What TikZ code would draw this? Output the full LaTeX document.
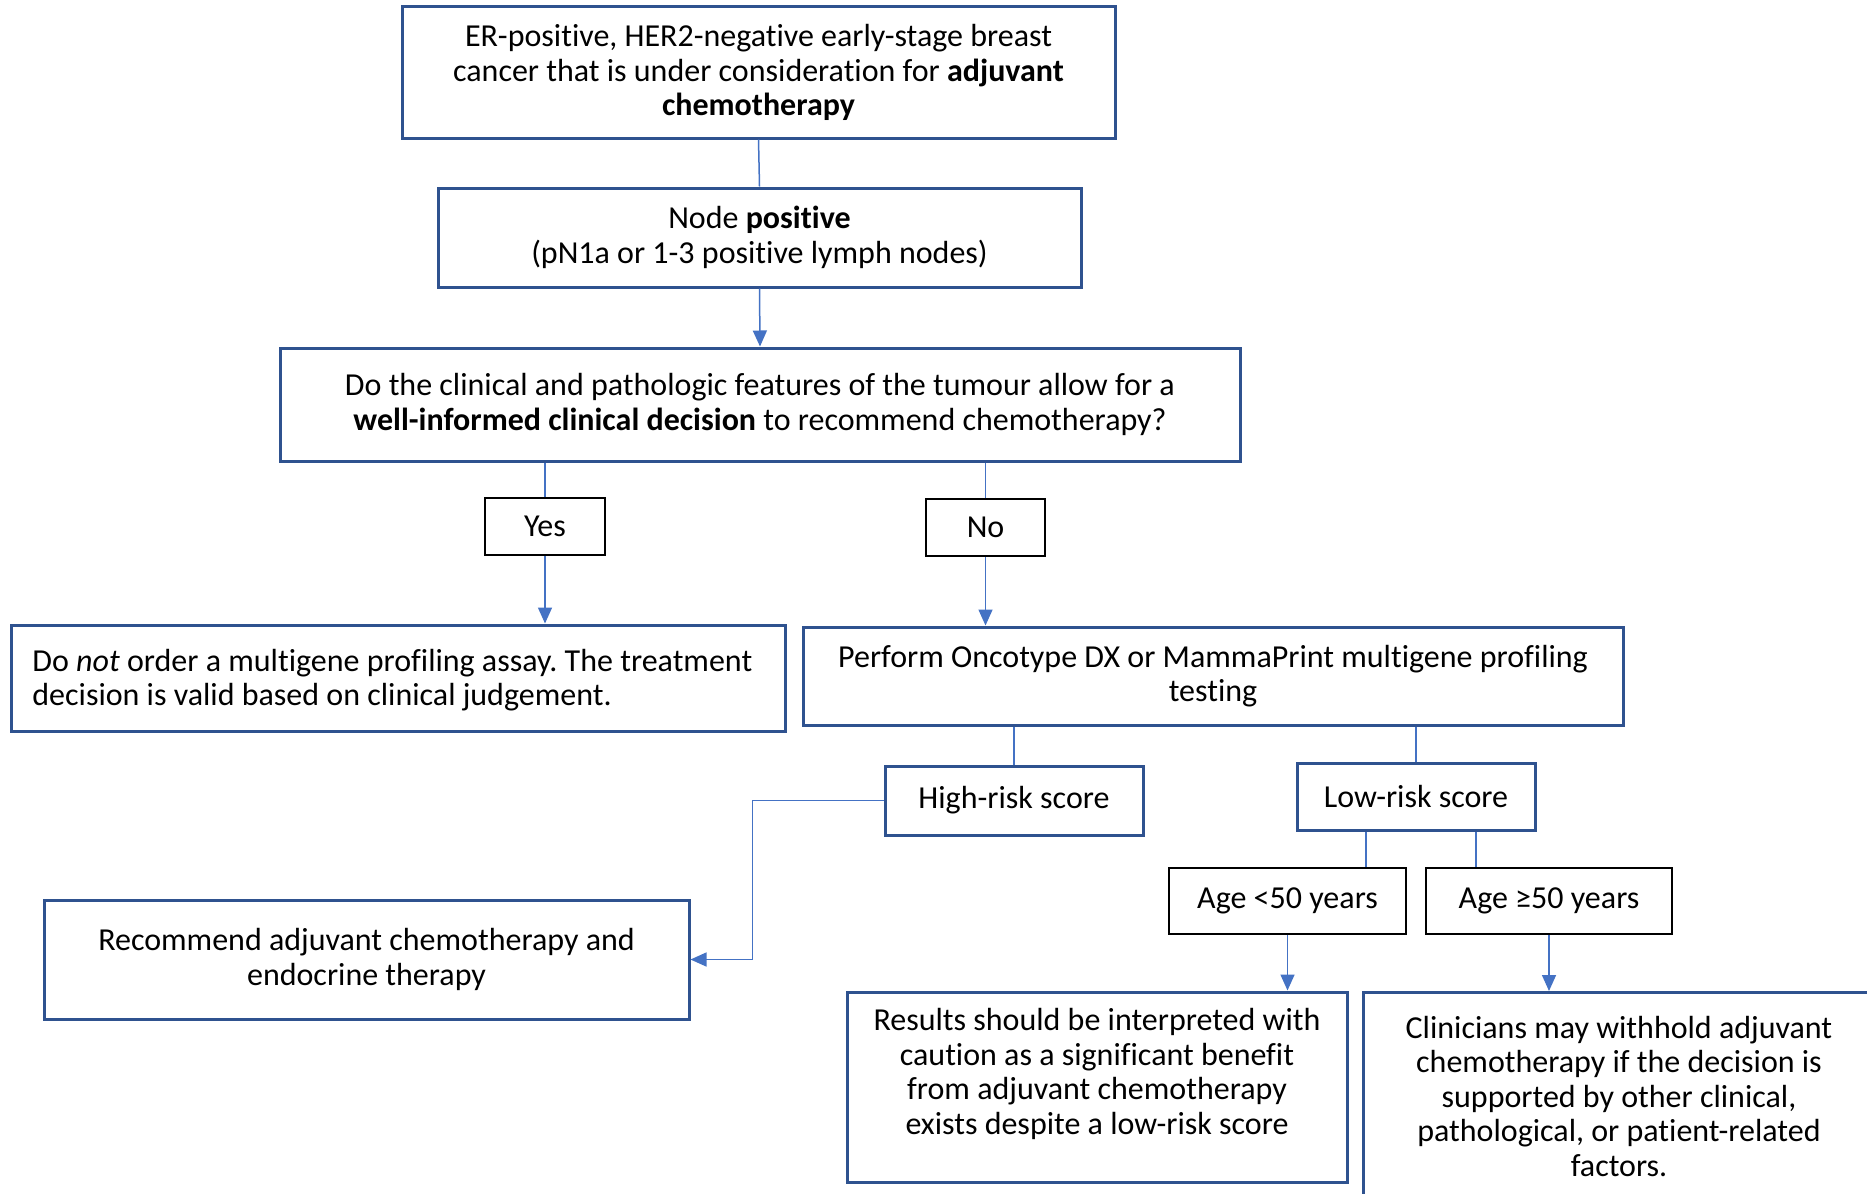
\documentclass[tikz,border=0pt]{standalone}
\usepackage{fontspec}
\setmainfont{Carlito}[Ligatures={NoCommon}]
\usetikzlibrary{arrows.meta}
\definecolor{boxblue}{RGB}{47,82,143}
\definecolor{lineblue}{RGB}{68,114,196}
\frenchspacing
\begin{document}
\begin{tikzpicture}[x=0.5pt,y=-0.5pt,
  txt/.style={font=\fontsize{16}{17.25}\selectfont},
  bbox/.style={draw=boxblue,line width=1.5pt,align=center,inner sep=0pt,txt},
  kbox/.style={draw=black,line width=1.2pt,align=center,inner sep=0pt,txt},
  conn/.style={draw=lineblue,line width=0.75pt},
  arr/.style={conn,-{Triangle[width=7pt,length=8pt]}}]
\clip (0,0) rectangle (1867,1193);
\fill[white] (0,0) rectangle (1867,1193);

\node[bbox,minimum width=356.5pt,minimum height=65.5pt] (b1) at (758.5,72.5)
  {ER-positive, HER2-negative early-stage breast\\cancer that is under consideration for \textbf{adjuvant}\\\textbf{chemotherapy}};
\node[bbox,minimum width=321.5pt,minimum height=49.5pt] (b2) at (759.5,237.5)
  {Node \textbf{positive}\\(pN1a or 1-3 positive lymph nodes)};
\node[bbox,minimum width=480pt,minimum height=56.5pt] (b3) at (760,404.5)
  {Do the clinical and pathologic features of the tumour allow for a\\\textbf{well-informed clinical decision} to recommend chemotherapy?};
\node[kbox,minimum width=60pt,minimum height=28.5pt] (yes) at (545,526.5) {Yes};
\node[kbox,minimum width=59.5pt,minimum height=28.5pt] (no) at (985.5,527.5) {No};
\node[bbox,minimum width=387pt,minimum height=53pt] (b4) at (398,678) {};
\node[txt,align=left,inner sep=0pt,anchor=west] (b4t) at (32,680)
  {Do \textit{not} order a multigene profiling assay. The treatment\\decision is valid based on clinical judgement.};
\node[bbox,minimum width=410pt,minimum height=49pt] (b5) at (1213,676)
  {Perform Oncotype DX or MammaPrint multigene profiling\\testing};
\node[bbox,minimum width=129pt,minimum height=34.5pt] (high) at (1014,800.5) {High-risk score};
\node[bbox,minimum width=119pt,minimum height=33.5pt] (low) at (1416,796.5) {Low-risk score};
\node[bbox,minimum width=322.5pt,minimum height=59.5pt] (b6) at (366.5,959.5)
  {Recommend adjuvant chemotherapy and\\endocrine therapy};
\node[kbox,minimum width=118.5pt,minimum height=33pt] (age1) at (1287.5,901) {Age <50 years};
\node[kbox,minimum width=123pt,minimum height=33pt] (age2) at (1549,901) {Age ≥50 years};
\node[bbox,minimum width=250pt,minimum height=95pt] (b7) at (1097,1087) {};
\node[txt,align=center,inner sep=0pt] (b7t) at (1097,1074)
  {Results should be interpreted with\\caution as a significant benefit\\from adjuvant chemotherapy\\exists despite a low-risk score};
\node[bbox,minimum width=258.5pt,minimum height=111pt] (b8) at (1621.5,1103.5) {};
\node[txt,align=center,inner sep=0pt] (b8t) at (1619,1096)
  {Clinicians may withhold adjuvant\\chemotherapy if the decision is\\supported by other clinical,\\pathological, or patient-related\\factors.};

\draw[conn] (b1.south) -- (b2.north);
\draw[arr] (b2.south) -- (b3.north);
\draw[conn] (b3.south -| yes.north) -- (yes.north);
\draw[arr] (yes.south) -- (yes.south |- b4.north);
\draw[conn] (b3.south -| no.north) -- (no.north);
\draw[arr] (no.south) -- (no.south |- b5.north);
\draw[conn] (b5.south -| high.north) -- (high.north);
\draw[conn] (b5.south -| low.north) -- (low.north);
\draw[arr] (high.west) -- ++(-131,0) |- (b6.east);
\draw[conn] (low.south -| 1366,0) -- (age1.north -| 1366,0);
\draw[conn] (low.south -| 1476,0) -- (age2.north -| 1476,0);
\draw[arr] (age1.south) -- (age1.south |- b7.north);
\draw[arr] (age2.south) -- (age2.south |- b8.north);
\end{tikzpicture}
\end{document}
